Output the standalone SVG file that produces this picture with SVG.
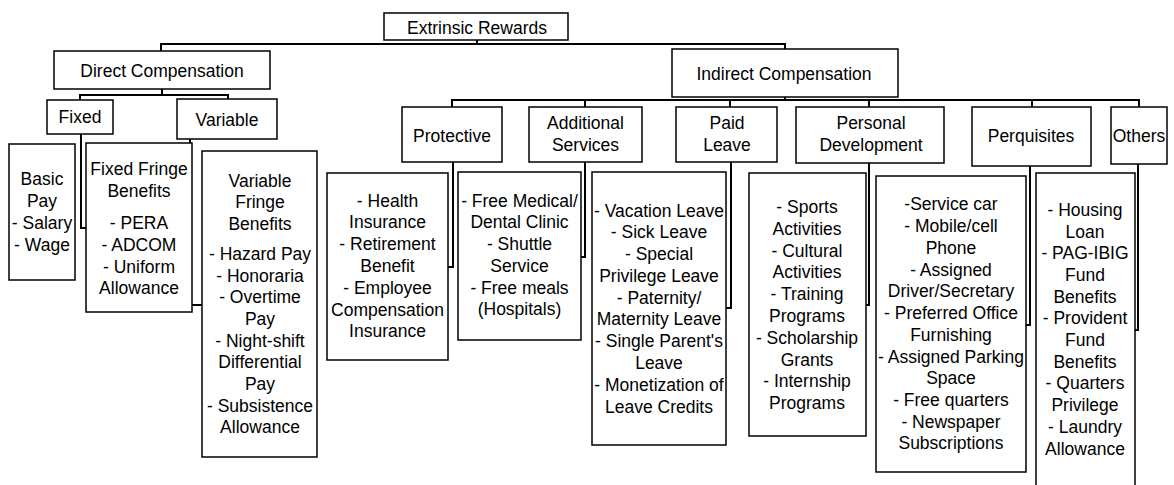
<svg xmlns="http://www.w3.org/2000/svg" width="1174" height="485" viewBox="0 0 1174 485">
<style>
.box{fill:#fff;stroke:#000;stroke-width:1.5}
.con{fill:none;stroke:#000;stroke-width:2}
text{font-family:"Liberation Sans",Arial,sans-serif;font-size:17.5px;fill:#000;text-anchor:middle}
</style>
<rect width="1174" height="485" fill="#fff"/>
<g id="connectors">
<path class="con" d="M477,40 V44 M161,51 V44 H785 V49"/>
<path class="con" d="M162,89 V95 M80,100 V95 H228 V99"/>
<path class="con" d="M81,134 V228 H86"/>
<path class="con" d="M190,139 V305 H202"/>
<path class="con" d="M785,97 V100 M452,107 V100 H1139 V107 M585,100 V107 M730,100 V107 M869,100 V107 M1032,100 V107"/>
<path class="con" d="M453,162 V267 H448"/>
<path class="con" d="M585,162 V257 H581"/>
<path class="con" d="M731,162 V308 H726"/>
<path class="con" d="M869,163 V305 H866"/>
<path class="con" d="M1030,166 V325 H1026"/>
<path class="con" d="M1138,164 V330 H1135"/>
</g>
<g id="extrinsic"><rect class="box" x="384" y="13" width="184" height="27"/><text x="477" y="34">Extrinsic Rewards</text></g>
<g id="direct"><rect class="box" x="54" y="51" width="216" height="38"/><text x="162" y="77">Direct Compensation</text></g>
<g id="indirect"><rect class="box" x="672" y="49" width="226" height="48"/><text x="784" y="80">Indirect Compensation</text></g>
<g id="fixed"><rect class="box" x="47" y="100" width="66" height="34"/><text x="80" y="123">Fixed</text></g>
<g id="variable"><rect class="box" x="177" y="99" width="100" height="40"/><text x="227" y="126">Variable</text></g>
<g id="basic"><rect class="box" x="9" y="144" width="66" height="136"/>
<text x="42"><tspan x="42" y="185">Basic</tspan><tspan x="42" y="207">Pay</tspan><tspan x="42" y="229">- Salary</tspan><tspan x="42" y="251">- Wage</tspan></text></g>
<g id="fixedfringe"><rect class="box" x="86" y="143" width="106" height="169"/>
<text><tspan x="139" y="175">Fixed Fringe</tspan><tspan x="139" y="197">Benefits</tspan><tspan x="139" y="229">- PERA</tspan><tspan x="139" y="251">- ADCOM</tspan><tspan x="139" y="273">- Uniform</tspan><tspan x="139" y="294">Allowance</tspan></text></g>
<g id="varfringe"><rect class="box" x="202" y="151" width="115" height="306"/>
<text><tspan x="260" y="187">Variable</tspan><tspan x="260" y="208">Fringe</tspan><tspan x="260" y="230">Benefits</tspan><tspan x="260" y="260">- Hazard Pay</tspan><tspan x="260" y="282">- Honoraria</tspan><tspan x="260" y="303">- Overtime</tspan><tspan x="260" y="325">Pay</tspan><tspan x="260" y="347">- Night-shift</tspan><tspan x="260" y="368">Differential</tspan><tspan x="260" y="390">Pay</tspan><tspan x="260" y="412">- Subsistence</tspan><tspan x="260" y="433">Allowance</tspan></text></g>
<g id="protective"><rect class="box" x="402" y="107" width="100" height="55"/><text x="452" y="142">Protective</text></g>
<g id="additional"><rect class="box" x="529" y="107" width="113" height="55"/><text><tspan x="585.5" y="129">Additional</tspan><tspan x="585.5" y="151">Services</tspan></text></g>
<g id="paidleave"><rect class="box" x="676" y="107" width="101" height="55"/><text><tspan x="727" y="129">Paid</tspan><tspan x="727" y="151">Leave</tspan></text></g>
<g id="personal"><rect class="box" x="796" y="107" width="148" height="56"/><text><tspan x="871" y="129">Personal</tspan><tspan x="871" y="151">Development</tspan></text></g>
<g id="perquisites"><rect class="box" x="972" y="107" width="119" height="59"/><text x="1031" y="142">Perquisites</text></g>
<g id="others"><rect class="box" x="1111" y="107" width="56" height="57"/><text x="1139" y="142">Others</text></g>
<g id="protective-detail"><rect class="box" x="327" y="173" width="121" height="187"/>
<text><tspan x="387.5" y="207">- Health</tspan><tspan x="387.5" y="228">Insurance</tspan><tspan x="387.5" y="250">- Retirement</tspan><tspan x="387.5" y="272">Benefit</tspan><tspan x="387.5" y="294">- Employee</tspan><tspan x="387.5" y="316">Compensation</tspan><tspan x="387.5" y="337">Insurance</tspan></text></g>
<g id="additional-detail"><rect class="box" x="458" y="172" width="123" height="168"/>
<text><tspan x="519.5" y="207">- Free Medical/</tspan><tspan x="519.5" y="228">Dental Clinic</tspan><tspan x="519.5" y="250">- Shuttle</tspan><tspan x="519.5" y="272">Service</tspan><tspan x="519.5" y="294">- Free meals</tspan><tspan x="519.5" y="315">(Hospitals)</tspan></text></g>
<g id="paidleave-detail"><rect class="box" x="592" y="172" width="134" height="273"/>
<text><tspan x="659" y="217">- Vacation Leave</tspan><tspan x="659" y="238">- Sick Leave</tspan><tspan x="659" y="260">- Special</tspan><tspan x="659" y="282">Privilege Leave</tspan><tspan x="659" y="304">- Paternity/</tspan><tspan x="659" y="325">Maternity Leave</tspan><tspan x="659" y="347">- Single Parent's</tspan><tspan x="659" y="369">Leave</tspan><tspan x="659" y="391">- Monetization of</tspan><tspan x="659" y="413">Leave Credits</tspan></text></g>
<g id="personal-detail"><rect class="box" x="749" y="173" width="117" height="263"/>
<text><tspan x="807" y="213">- Sports</tspan><tspan x="807" y="235">Activities</tspan><tspan x="807" y="257">- Cultural</tspan><tspan x="807" y="278">Activities</tspan><tspan x="807" y="300">- Training</tspan><tspan x="807" y="322">Programs</tspan><tspan x="807" y="344">- Scholarship</tspan><tspan x="807" y="366">Grants</tspan><tspan x="807" y="387">- Internship</tspan><tspan x="807" y="409">Programs</tspan></text></g>
<g id="perquisites-detail"><rect class="box" x="876" y="176" width="150" height="296"/>
<text><tspan x="951" y="210">-Service car</tspan><tspan x="951" y="232">- Mobile/cell</tspan><tspan x="951" y="254">Phone</tspan><tspan x="951" y="276">- Assigned</tspan><tspan x="951" y="297">Driver/Secretary</tspan><tspan x="951" y="319">- Preferred Office</tspan><tspan x="951" y="341">Furnishing</tspan><tspan x="951" y="363">- Assigned Parking</tspan><tspan x="951" y="384">Space</tspan><tspan x="951" y="406">- Free quarters</tspan><tspan x="951" y="428">- Newspaper</tspan><tspan x="951" y="449">Subscriptions</tspan></text></g>
<g id="others-detail"><path class="box" d="M1036,490 V173 H1135 V490"/>
<text><tspan x="1085" y="216">- Housing</tspan><tspan x="1085" y="238">Loan</tspan><tspan x="1085" y="259">- PAG-IBIG</tspan><tspan x="1085" y="281">Fund</tspan><tspan x="1085" y="303">Benefits</tspan><tspan x="1085" y="324">- Provident</tspan><tspan x="1085" y="346">Fund</tspan><tspan x="1085" y="368">Benefits</tspan><tspan x="1085" y="389">- Quarters</tspan><tspan x="1085" y="411">Privilege</tspan><tspan x="1085" y="433">- Laundry</tspan><tspan x="1085" y="455">Allowance</tspan></text></g>
</svg>
